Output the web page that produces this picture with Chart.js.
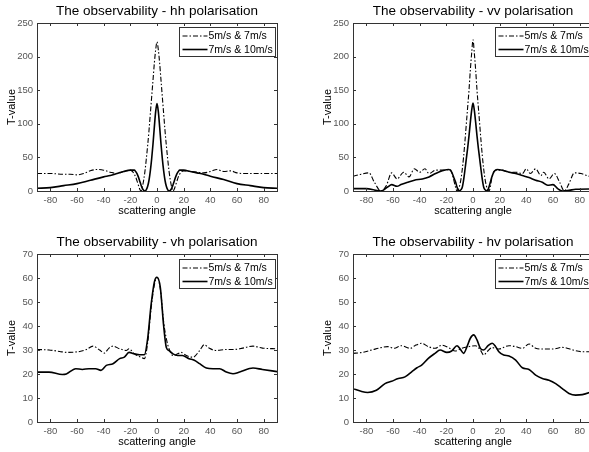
<!DOCTYPE html>
<html><head><meta charset="utf-8">
<script src="https://cdn.jsdelivr.net/npm/chart.js@4.4.1/dist/chart.umd.min.js"></script>
<style>
html,body{margin:0;padding:0;background:#fff;overflow:hidden;width:589px;height:452px;position:relative}
canvas{position:absolute}
</style></head><body>
<canvas id="c1" width="295" height="226" style="left:0;top:0;width:295px;height:226px"></canvas>
<canvas id="c2" width="295" height="226" style="left:316px;top:0;width:295px;height:226px"></canvas>
<canvas id="c3" width="295" height="226" style="left:0;top:231px;width:295px;height:226px"></canvas>
<canvas id="c4" width="295" height="226" style="left:316px;top:231px;width:295px;height:226px"></canvas>
<script>
// ---- tick labels / categories ----
const xTickValues = [-80,-60,-40,-20,0,20,40,60,80];
const yTicksCo = [0,50,100,150,200,250];
const yTicksCross = [0,10,20,30,40,50,60,70];
const seriesLabels = ['5m/s & 7m/s','7m/s & 10m/s'];
const plotTitles = ['The observability - hh polarisation','The observability - vv polarisation',
                    'The observability - vh polarisation','The observability - hv polarisation'];

// ---- hh ----
const hhAngle57 = [-90,-80,-70,-65,-60,-55,-50,-45,-40,-35,-30,-25,-20,-18,-16,-15,-14,-13,-12,-11,-10,-9,-8,-7,-6,-5,-4,-3,-2,-1,0,1,2,3,4,5,6,7,8,9,10,11,12,13,14,15,16,18,20,25,30,35,40,45,50,55,60,65,70,80,90];
const hhT57     = [26,26,25,25,24,26,30,32,31,28,26,29,31,28,21,15,9,3,0,6,16,30,48,68,90,115,140,165,190,210,222,210,190,165,140,115,90,68,48,30,16,6,0,3,9,15,21,28,30,29,28,27,29,32,29,30,27,26,26,26,26];
const hhAngle710 = [-90,-80,-70,-60,-50,-40,-35,-30,-25,-20,-17,-16,-15,-14,-13,-12,-11,-10,-9,-8,-7,-6,-5,-4,-3,-2,-1,0,1,2,3,4,5,6,7,8,9,10,11,12,13,14,15,16,17,20,25,30,35,40,50,60,70,80,90];
const hhT710     = [4,5,8,11,16,21,23,26,29,31,31,29,26,21,15,9,4,1,0,2,7,16,30,48,70,95,118,130,118,95,70,48,30,16,7,2,0,1,4,9,15,21,26,29,31,31,29,27,25,22,17,11,8,5,4];

// ---- vv ----
const vvAngle57 = [-90,-84,-78,-74,-69,-65,-61,-57,-52,-48,-44,-40,-36,-33,-28,-23,-17,-15,-13,-12,-11,-10,-9,-8,-7,-6,-5,-4,-3,-2,-1,0,1,2,3,4,5,6,7,8,9,10,11,12,13,14,16,18,22,27,32,37,40,43,47,51,53,57,61,65,68.5,72,76,81,87,90];
const vvT57     = [22,25,27,13,0,8,27,18,28,21,33,28,33,26,31,31,32,21,5,0,2,8,18,33,52,75,100,125,150,180,205,225,205,180,150,125,100,75,52,33,18,8,2,0,6,18,30,31,31,28,28,26,33,26,33,23,28,18,26,13,0,11,27,26,22,21];
const vvAngle710 = [-90,-80,-73,-69,-64,-61,-57,-54,-49,-44,-38,-33,-28,-23,-18,-16,-14,-13,-12,-11,-10,-9,-8,-7,-6,-5,-4,-3,-2,-1,0,1,2,3,4,5,6,7,8,9,10,11,12,13,14,15.6,18,22,27,32,37,42,47,52,56,60,63.5,67,72,77,87,90];
const vvT710     = [3.5,3.5,1,0,6,9.5,7,9.5,13,16,18,21,26,30,32,28,18,13,6,1,0.5,2,6,17,32,48,64,82,102,120,131,120,102,82,64,48,32,17,6,2,0.5,1,6,13,20,28,32,31,28,26,23,20,16,13,8.5,9.5,3.5,0,1,2.5,3,3];

// ---- vh ----
const vhAngle57 = [-90,-81,-73,-68,-58,-53,-48,-43,-39.5,-36,-33,-28,-23,-21,-17,-12,-9.5,-7,-4.5,-2,0,2.5,5,7,9,12,15.5,18,22,27,32,35.5,39,44,52,57,62,72,79,90];
const vhT57     = [30.2,30,29.4,29,29.4,30.2,31.6,30,28.7,30.8,31.6,30.5,29.8,30.5,28.4,27,26.4,33,47,57,60.3,55.5,41.6,34.7,30.5,27.7,28.4,29,27.7,27,29.8,32.2,30.8,29.8,30.2,30.2,30.5,31.6,30.8,30.5];
const vhAngle710 = [-90,-81,-71,-68,-61,-56,-51,-46,-42,-38,-33,-28,-24.5,-21,-17,-13,-9.5,-7,-4.5,-2,0,2.5,5,7,9,12,15.5,19,24,28,32,37,42,47,52,57,62,72,79,90];
const vhT710     = [20.8,20.8,19.8,20,22.2,21.9,22.2,22.2,21.5,23.6,24.3,26.4,27,29,28.4,28,28,34.7,48.5,58.3,60.3,56,40,31,29.8,28.4,27.7,27.7,26.4,25.7,24.3,22.5,22.2,22.2,20.8,20.1,20.8,22.5,21.9,21];

// ---- hv ----
const hvAngle57 = [-90,-84,-76,-69,-64,-59,-54,-47,-43.6,-38.5,-33.5,-28.5,-23.4,-18.4,-13.4,-8.3,-3.3,1.8,5.5,8,10.6,14.4,19.4,27,32,37,42,47,52,60,67,75,82,90];
const hvT57     = [28.6,28.9,30,31,31.4,30.7,31.8,30.7,31.8,32.8,31.4,30.7,32,31,29.6,30.7,31.4,31.8,30,27.9,29.3,31,30.4,31.8,31.4,30.7,32.5,30.7,30.4,30.4,31.1,30,29.3,29.3];
const hvAngle710 = [-90,-84,-79,-72.5,-66,-61,-56,-51,-46,-42,-38.5,-33.5,-28.5,-24.7,-19.6,-16,-12,-9.6,-7,-4.5,-2,0.5,3,5.5,8,11.3,14.4,17,19.4,23,27,32,37,42,47,52,57,62,67,72,77,82,90];
const hvT710     = [13.9,12.8,12.3,13.2,16,17,18.1,18.8,20.9,22.6,23.7,26.5,28.6,30,29,29.6,31.8,30.4,28.6,31.4,34.9,36.3,34.2,30.7,30,31.8,32.8,31.4,29.3,27.9,27.5,25.8,22.6,21.9,19.5,18.1,17.4,16,13.9,11.9,11.2,11.4,12.8];

const FONT = "'Liberation Sans', Arial, Helvetica, sans-serif";
const TICKFONT = "'Liberation Sans Narrow', 'Arial Narrow', 'Liberation Sans', sans-serif";
const FRAME = '#333';

const framePlugin = {
  id: 'matlabFrame',
  afterDatasetsDraw(chart) {
    const {ctx, chartArea: a, scales} = chart;
    ctx.save();
    ctx.strokeStyle = FRAME; ctx.lineWidth = 1;
    ctx.beginPath();
    scales.x.ticks.forEach(t => {
      const px = Math.round(scales.x.getPixelForValue(t.value)) + 0.5;
      ctx.moveTo(px, a.bottom); ctx.lineTo(px, a.bottom - 3);
      ctx.moveTo(px, a.top); ctx.lineTo(px, a.top + 3);
    });
    scales.y.ticks.forEach(t => {
      const py = Math.round(scales.y.getPixelForValue(t.value)) + 0.5;
      ctx.moveTo(a.left, py); ctx.lineTo(a.left + 3, py);
      ctx.moveTo(a.right, py); ctx.lineTo(a.right - 3, py);
    });
    ctx.stroke();
    ctx.strokeRect(Math.round(a.left) + 0.5, Math.round(a.top) + 0.5,
                   Math.round(a.right - a.left), Math.round(a.bottom - a.top));
    // legend box
    const off = chart.options.plugins.matlabFrame.legendOffset;
    const bw = 96, bh = 29;
    const bx = Math.round(a.right) - 2 - bw + 0.5, by = Math.round(a.top) + off + 0.5;
    ctx.fillStyle = '#fff';
    ctx.fillRect(bx, by, bw, bh);
    ctx.strokeStyle = FRAME;
    ctx.strokeRect(bx, by, bw, bh);
    chart.data.datasets.forEach((ds, i) => {
      const ly = by + 8.5 + i * 13.5;
      ctx.beginPath();
      ctx.strokeStyle = '#000';
      ctx.lineWidth = ds.borderWidth;
      ctx.setLineDash(ds.borderDash || []);
      ctx.moveTo(bx + 3, ly); ctx.lineTo(bx + 28, ly);
      ctx.stroke();
      ctx.setLineDash([]);
      ctx.fillStyle = '#000';
      ctx.font = '10.5px ' + FONT;
      ctx.textBaseline = 'middle';
      ctx.textAlign = 'left';
      ctx.fillText(ds.label, bx + 29, ly + 0.5);
    });
    ctx.restore();
  }
};

function pts(ang, val) { return ang.map((a, i) => ({x: a, y: val[i]})); }

function makeChart(id, title, a1, v1, a2, v2, yTicks, legendOffset) {
  new Chart(document.getElementById(id), {
    type: 'line',
    data: {
      datasets: [
        {label: seriesLabels[0], data: pts(a1, v1), borderColor: '#000', borderWidth: 1.1,
         borderDash: [5, 2, 1.5, 2], pointRadius: 0, cubicInterpolationMode: 'monotone', fill: false},
        {label: seriesLabels[1], data: pts(a2, v2), borderColor: '#000', borderWidth: 1.6,
         pointRadius: 0, cubicInterpolationMode: 'monotone', fill: false}
      ]
    },
    options: {
      responsive: false, animation: false, devicePixelRatio: 1,
      layout: {padding: {left: 0, right: 18, top: 0, bottom: 0}},
      plugins: {
        legend: {display: false}, tooltip: {enabled: false},
        title: {display: true, text: title, fullSize: false, color: '#000',
                font: {family: FONT, size: 13.5, weight: 'normal'}, padding: {top: 3, bottom: 3.8}},
        matlabFrame: {legendOffset: legendOffset}
      },
      scales: {
        x: {
          type: 'linear', min: -90, max: 90,
          grid: {display: false, drawTicks: false}, border: {display: false},
          afterBuildTicks: s => { s.ticks = xTickValues.map(v => ({value: v})); },
          afterFit: s => { s.height = 35; },
          ticks: {color: '#555', font: {family: TICKFONT, size: 9.5}, padding: 4, maxRotation: 0, autoSkip: false},
          title: {display: true, text: 'scattering angle', color: '#000',
                  font: {family: FONT, size: 11}, padding: {top: 0, bottom: 8}}
        },
        y: {
          type: 'linear', min: yTicks[0], max: yTicks[yTicks.length - 1],
          grid: {display: false, drawTicks: false}, border: {display: false},
          afterBuildTicks: s => { s.ticks = yTicks.map(v => ({value: v})); },
          afterFit: s => { s.width = 37; },
          ticks: {color: '#555', font: {family: TICKFONT, size: 9.5}, padding: 4, autoSkip: false},
          title: {display: true, text: 'T-value', color: '#000',
                  font: {family: FONT, size: 11}, padding: {top: 5, bottom: 0}}
        }
      }
    },
    plugins: [framePlugin]
  });
}

makeChart('c1', plotTitles[0], hhAngle57, hhT57, hhAngle710, hhT710, yTicksCo, 4);
makeChart('c2', plotTitles[1], vvAngle57, vvT57, vvAngle710, vvT710, yTicksCo, 4);
makeChart('c3', plotTitles[2], vhAngle57, vhT57, vhAngle710, vhT710, yTicksCross, 5);
makeChart('c4', plotTitles[3], hvAngle57, hvT57, hvAngle710, hvT710, yTicksCross, 5);
</script>
</body></html>
